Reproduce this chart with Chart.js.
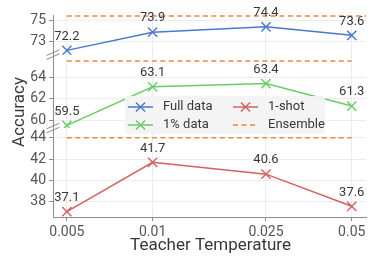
<!DOCTYPE html>
<html><head><meta charset="utf-8">
<script src="https://cdn.jsdelivr.net/npm/chart.js@4.4.0/dist/chart.umd.min.js"></script>
<style>html,body{margin:0;padding:0;background:#fff}#wrap{width:381px;height:263px}</style>
</head><body><div id="wrap"><canvas id="c" width="381" height="263"></canvas></div>
<script>
// ---- data ----
const temperatures = [0.005, 0.01, 0.025, 0.05];
const xTickLabels = ['0.005', '0.01', '0.025', '0.05'];
const fullData = [72.2, 73.9, 74.4, 73.6];
const onePctData = [59.5, 63.1, 63.4, 61.3];
const oneShotData = [37.1, 41.7, 40.6, 37.6];
const ensembleValues = [75.4, 65.5, 44.0]; // full data, 1% data, 1-shot
const topTicks = [73, 75];
const midTicks = [60, 62, 64];
const botTicks = [38, 40, 42, 44];
const topRange = [71.8, 75.5];
const midRange = [59.25, 66.1];
const botRange = [36.6, 44.9];
const xRange = [0.00447, 0.0561];
const seriesLabels = ['Full data', '1% data', '1-shot', 'Ensemble'];

const C = {blue:'#4878D0', green:'#6ACC64', red:'#D65F5F', orange:'#EE854A'};
const FONT = 'Roboto, "Open Sans", sans-serif';
const SPINE = '#8c8c8c', GRID = '#ececec', TICKTXT = '#555555', DARK = '#383838';

function pts(ys){ return temperatures.map((t,i)=>({x:t, y:ys[i]})); }
function lineDs(label, ys, color, axis){
  return {label, data: pts(ys), yAxisID: axis, borderColor: color, backgroundColor: color,
    borderWidth: 1.5, pointStyle: 'crossRot', pointRadius: 6.5, pointHoverRadius: 6.5,
    pointBorderWidth: 1.4, pointBorderColor: color, fill: false, tension: 0, showLabels: true};
}
function ensDs(v, axis, xEnd){
  return {label: seriesLabels[3], data: [{x: temperatures[0], y: v}, {x: xEnd, y: v}], yAxisID: axis,
    borderColor: C.orange, borderWidth: 1.5, borderDash: [5, 3.5], pointRadius: 0, fill: false};
}

function yAxis(range, ticks, weight){
  return {type: 'linear', position: 'left', stack: 'acc', stackWeight: weight,
    min: range[0], max: range[1],
    afterBuildTicks: s => { s.ticks = ticks.map(v => ({value: v})); },
    afterFit: s => { s.width = 53; },
    ticks: {autoSkip: false, color: TICKTXT, font: {family: FONT, size: 14}, padding: 3},
    grid: {color: GRID, tickColor: SPINE, tickLength: 4, lineWidth: 1},
    border: {color: SPINE, width: 1}};
}

const extras = {
  id: 'extras',
  afterDatasetsDraw(chart){
    const ctx = chart.ctx;
    ctx.save();
    ctx.font = '13px ' + FONT;
    ctx.fillStyle = DARK;
    ctx.textAlign = 'center';
    ctx.textBaseline = 'middle';
    chart.data.datasets.forEach((ds, di) => {
      if (!ds.showLabels) return;
      const meta = chart.getDatasetMeta(di);
      meta.data.forEach((p, i) => {
        ctx.fillText(ds.data[i].y.toFixed(1), p.x, p.y - 14);
      });
    });
    ctx.restore();
  },
  afterDraw(chart){
    const ctx = chart.ctx, a = chart.chartArea;
    ctx.save();
    // break marks
    const yt = chart.scales.yTop, ym = chart.scales.yMid;
    ctx.strokeStyle = SPINE; ctx.lineWidth = 1;
    [yt.bottom, ym.bottom].forEach(b => {
      [-2, 2].forEach(o => {
        ctx.beginPath();
        ctx.moveTo(a.left - 6.5, b + o + 2.8);
        ctx.lineTo(a.left + 6.5, b + o - 2.8);
        ctx.stroke();
      });
    });
    // axis titles
    ctx.fillStyle = DARK;
    ctx.font = '17px ' + FONT;
    ctx.textAlign = 'center'; ctx.textBaseline = 'middle';
    ctx.fillText('Teacher Temperature', (a.left + a.right) / 2 + 1, 246);
    ctx.save();
    ctx.translate(20, (a.top + a.bottom) / 2 - 4);
    ctx.rotate(-Math.PI / 2);
    ctx.fillText('Accuracy', 0, 0);
    ctx.restore();
    // legend
    const bx = 125, by = 96, bw = 200, bh = 38;
    ctx.fillStyle = 'rgba(243,243,243,0.93)';
    ctx.beginPath();
    ctx.roundRect(bx, by, bw, bh, 3);
    ctx.fill();
    const items = [
      {label: seriesLabels[0], color: C.blue, marker: true, col: 0, row: 0},
      {label: seriesLabels[1], color: C.green, marker: true, col: 0, row: 1},
      {label: seriesLabels[2], color: C.red, marker: true, col: 1, row: 0},
      {label: seriesLabels[3], color: C.orange, marker: false, col: 1, row: 1}
    ];
    const colX = [128, 233], rowY = [107, 125];
    ctx.font = '13px ' + FONT;
    ctx.textAlign = 'left';
    items.forEach(it => {
      const x = colX[it.col], y = rowY[it.row];
      ctx.strokeStyle = it.color; ctx.lineWidth = 1.5;
      ctx.setLineDash(it.marker ? [] : [5, 3.5]);
      ctx.beginPath(); ctx.moveTo(x, y); ctx.lineTo(x + 25, y); ctx.stroke();
      ctx.setLineDash([]);
      if (it.marker) {
        const cx = x + 12.5, r = 4.6;
        ctx.lineWidth = 1.4;
        ctx.beginPath();
        ctx.moveTo(cx - r, y - r); ctx.lineTo(cx + r, y + r);
        ctx.moveTo(cx - r, y + r); ctx.lineTo(cx + r, y - r);
        ctx.stroke();
      }
      ctx.fillStyle = DARK;
      ctx.fillText(it.label, x + 35, y);
    });
    ctx.restore();
  }
};

new Chart(document.getElementById('c'), {
  type: 'line',
  data: {datasets: [
    lineDs(seriesLabels[0], fullData, C.blue, 'yTop'),
    lineDs(seriesLabels[1], onePctData, C.green, 'yMid'),
    lineDs(seriesLabels[2], oneShotData, C.red, 'yBot'),
    ensDs(ensembleValues[0], 'yTop', xRange[1]),
    ensDs(ensembleValues[1], 'yMid', temperatures[3]),
    ensDs(ensembleValues[2], 'yBot', temperatures[3])
  ]},
  options: {
    responsive: false, animation: false, devicePixelRatio: 1,
    layout: {padding: {top: 15, right: 15, left: 0, bottom: 0}},
    plugins: {legend: {display: false}, tooltip: {enabled: false}},
    scales: {
      x: {type: 'logarithmic', min: xRange[0], max: xRange[1],
        afterBuildTicks: s => { s.ticks = temperatures.map(v => ({value: v})); },
        afterFit: s => { s.height = 46; },
        ticks: {autoSkip: false, maxRotation: 0, color: TICKTXT, font: {family: FONT, size: 14}, padding: 3,
          callback: (v, i) => xTickLabels[i]},
        grid: {color: GRID, tickColor: SPINE, tickLength: 4},
        border: {color: SPINE, width: 1}},
      yBot: yAxis(botRange, botTicks, botRange[1] - botRange[0]),
      yMid: yAxis(midRange, midTicks, midRange[1] - midRange[0]),
      yTop: yAxis(topRange, topTicks, topRange[1] - topRange[0])
    }
  },
  plugins: [extras]
});
</script></body></html>
